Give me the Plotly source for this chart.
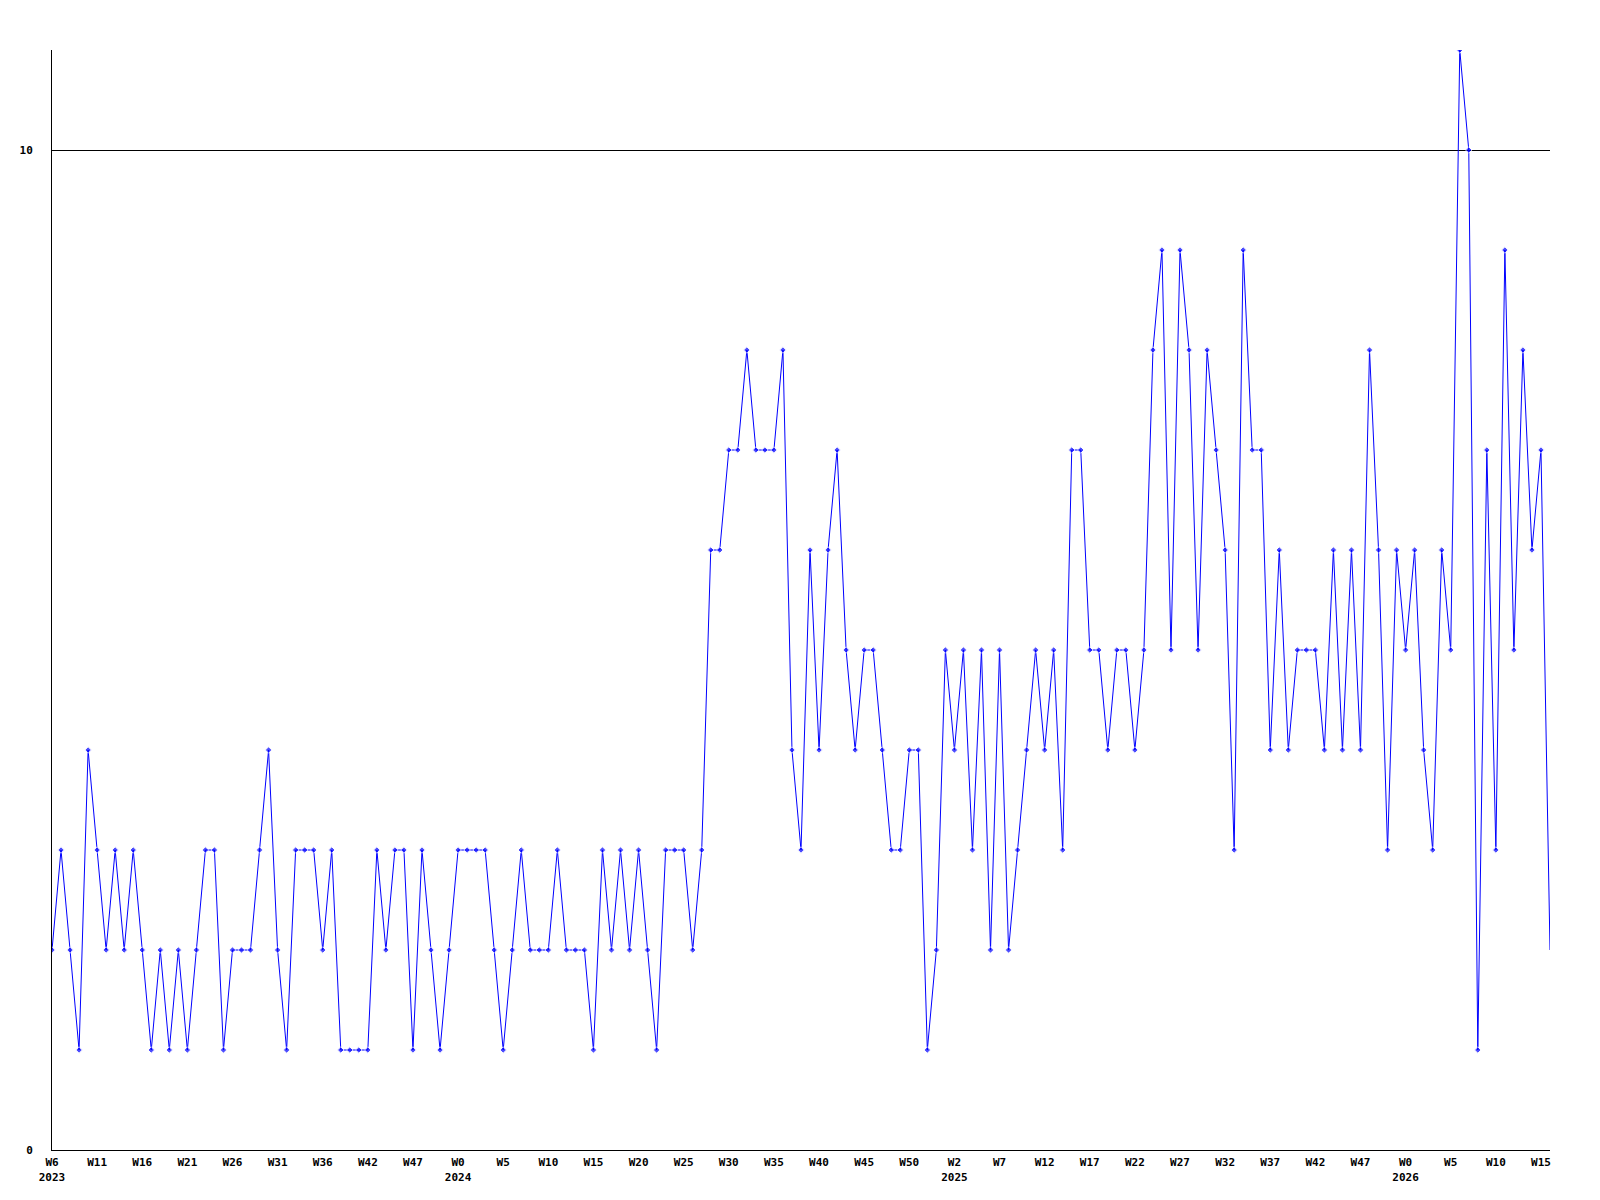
import plotly.graph_objects as go

values = [2, 3, 2, 1, 4, 3, 2, 3, 2, 3, 2, 1, 2, 1, 2, 1, 2, 3, 3, 1,
          2, 2, 2, 3, 4, 2, 1, 3, 3, 3, 2, 3, 1, 1, 1, 1, 3, 2, 3, 3,
          1, 3, 2, 1, 2, 3, 3, 3, 3, 2, 1, 2, 3, 2, 2, 2, 3, 2, 2, 2,
          1, 3, 2, 3, 2, 3, 2, 1, 3, 3, 3, 2, 3, 6, 6, 7, 7, 8, 7, 7,
          7, 8, 4, 3, 6, 4, 6, 7, 5, 4, 5, 5, 4, 3, 3, 4, 4, 1, 2, 5,
          4, 5, 3, 5, 2, 5, 2, 3, 4, 5, 4, 5, 3, 7, 7, 5, 5, 4, 5, 5,
          4, 5, 8, 9, 5, 9, 8, 5, 8, 7, 6, 3, 9, 7, 7, 4, 6, 4, 5, 5,
          5, 4, 6, 4, 6, 4, 8, 6, 3, 6, 5, 6, 4, 3, 6, 5, 11, 10, 1, 7,
          3, 9, 5, 8, 6, 7, 2]

week_labels = ["W6", "W11", "W16", "W21", "W26", "W31", "W36", "W42", "W47",
               "W0", "W5", "W10", "W15", "W20", "W25", "W30", "W35", "W40",
               "W45", "W50", "W2", "W7", "W12", "W17", "W22", "W27", "W32",
               "W37", "W42", "W47", "W0", "W5", "W10", "W15"]
year_labels = {0: "2023", 9: "2024", 20: "2025", 30: "2026"}
label_step = 5

x_idx = list(range(len(values)))
tick_vals = [i * label_step for i in range(len(week_labels))]
tick_text = [w + ("<br>" + year_labels[i] if i in year_labels else "<br> ")
             for i, w in enumerate(week_labels)]

marker_sizes = [5] * (len(values) - 1) + [0]

fig = go.Figure()
fig.add_trace(go.Scatter(
    x=x_idx, y=values, mode="lines+markers",
    line=dict(color="#0000ff", width=1),
    marker=dict(symbol="diamond", size=marker_sizes, color="#0000ff"),
    hoverinfo="skip",
))

font = dict(family="DejaVu Sans Mono", size=11, color="black", weight="bold")

fig.update_layout(
    width=1600, height=1200,
    margin=dict(l=42, r=58, t=42, b=58),
    paper_bgcolor="white", plot_bgcolor="white",
    showlegend=False,
    xaxis=dict(
        range=[0, len(values) - 1],
        tickmode="array", tickvals=tick_vals, ticktext=tick_text,
        showgrid=False, zeroline=False,
        showline=True, linecolor="black", linewidth=1,
        ticks="", tickfont=font, ticklabelstandoff=2,
    ),
    yaxis=dict(
        range=[0, 11],
        tickmode="array", tickvals=[0, 10], ticktext=["0", "10"],
        showgrid=True, gridcolor="black", gridwidth=1,
        zeroline=False,
        showline=True, linecolor="black", linewidth=1,
        ticks="", tickfont=font, ticklabelstandoff=16,
    ),
)

fig.write_html("out.html")
